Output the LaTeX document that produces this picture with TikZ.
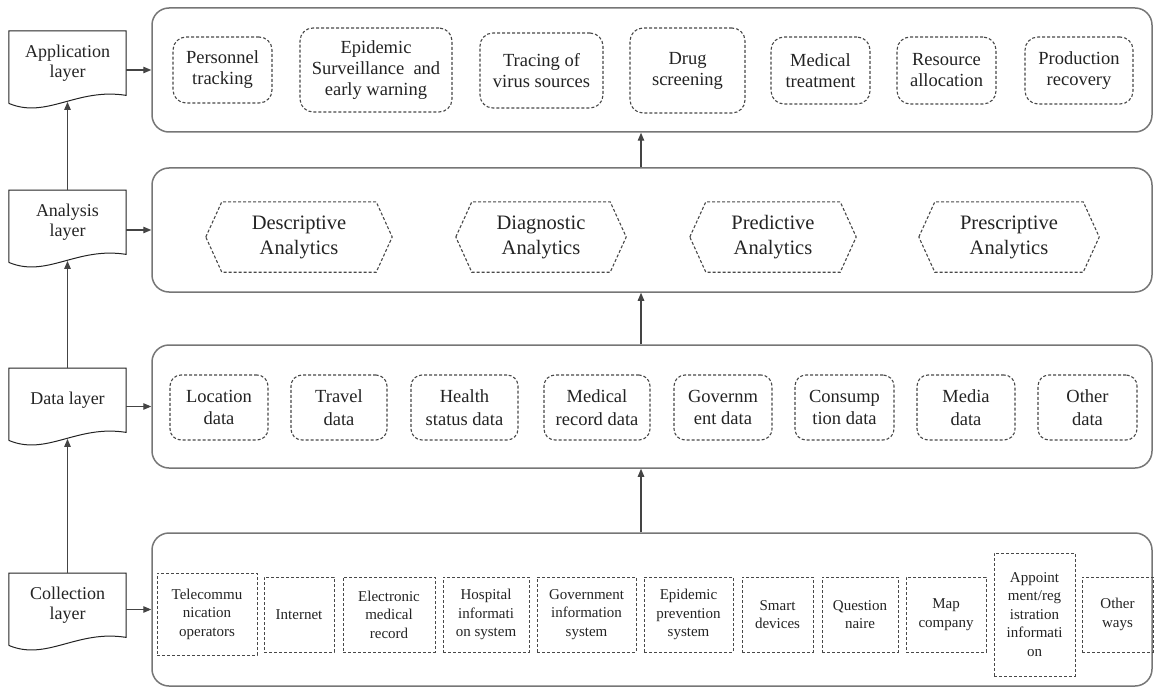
\documentclass[tikz,border=0pt]{standalone}
\usepackage{fontspec}
\setmainfont{Liberation Serif}
\newfontfamily\timesfam{Liberation Serif}
\usetikzlibrary{calc,arrows.meta}

\definecolor{frame}{RGB}{118,118,118}
\definecolor{ink}{RGB}{35,35,35}
\definecolor{dashc}{RGB}{72,72,72}

% document-style outline with a wavy bottom edge
\newcommand\docframe[1]{%
  \draw[docline] ($(#1.south west)+(0,9)$) -- (#1.north west) -- (#1.north east)
    -- ($(#1.south east)+(0,1)$)
    .. controls ($(#1.south west)+(68,-7)$) and ($(#1.south west)+(38,25)$) ..
    ($(#1.south west)+(0,9)$);
  \coordinate (#1-w) at ($(#1.south)+(0,7.5)$);}

% dashed hexagon around a node
\newcommand\hexframe[1]{%
  \draw[dashbox] (#1.west) -- ($(#1.north west)+(16,0)$) -- ($(#1.north east)+(-16,0)$)
    -- (#1.east) -- ($(#1.south east)+(-16,0)$) -- ($(#1.south west)+(16,0)$) -- cycle;}

\begin{document}
\begin{tikzpicture}[x=1pt,y=-1pt,
  every node/.style={text=ink, inner sep=0pt, align=center},
  bigbox/.style={draw=frame, line width=1.5pt, rounded corners=17pt, minimum width=1000pt},
  dashbox/.style={draw=dashc, line width=1.1pt, dash pattern=on 3pt off 2pt},
  docline/.style={draw=ink, line width=1pt},
  layerlbl/.style={anchor=north, minimum width=117pt, minimum height=63pt,
    font=\timesfam\fontsize{18}{20}\selectfont},
  appbox/.style={dashbox, rounded corners=13pt, font=\timesfam\fontsize{18.5}{21}\selectfont},
  hexlbl/.style={font=\timesfam\fontsize{20.5}{25}\selectfont, minimum height=70pt},
  databox/.style={dashbox, rounded corners=11pt, minimum height=65pt,
    font=\timesfam\fontsize{18.5}{22.5}\selectfont},
  srcbox/.style={dashbox, line width=1pt, minimum height=75pt, font=\timesfam\fontsize{15}{18.5}\selectfont},
  arr/.style={draw=ink!85!white, line width=1.1pt, -{Triangle[length=8pt,width=6.5pt]}}
]
\useasboundingbox (0,0) rectangle (1155,687);

% layer boxes
\node[bigbox, minimum height=124pt] (topb) at (652,70) {};
\node[bigbox, minimum height=124pt] (anab) at (652,230) {};
\node[bigbox, minimum height=123pt] (datb) at (652,406.5) {};
\node[bigbox, minimum height=153pt] (colb) at (652,609.5) {};

% layer labels
\node[layerlbl] (app) at (67.5,31) {Application\\layer};
\node[layerlbl] (ana) at (67.5,190) {Analysis\\layer};
\node[layerlbl] (dat) at (67.5,368) {Data layer};
\node[layerlbl] (col) at (67.5,573) {Collection\\layer};
\docframe{app}\docframe{ana}\docframe{dat}\docframe{col}

% application layer
\node[appbox, minimum width=99pt, minimum height=66pt] (per) at (222.5,70) {Personnel\\tracking};
\node[appbox, minimum width=152pt, minimum height=84pt] (epi) at (376,70) {Epidemic\\Surveillance\ \ and\\early warning};
\node[appbox, minimum width=123pt, minimum height=75pt] (trc) at (541.5,70.5) {Tracing of\\virus sources};
\node[appbox, minimum width=115pt, minimum height=85pt] (drg) at (687.5,70.5) {Drug\\screening};
\node[appbox, minimum width=99pt, minimum height=67pt] (mtr) at (820.5,70.5) {Medical\\treatment};
\node[appbox, minimum width=99pt, minimum height=67pt] (ral) at (946.5,70.5) {Resource\\allocation};
\node[appbox, minimum width=108pt, minimum height=67pt] (prd) at (1079,70.5) {Production\\recovery};

% analysis layer
\node[hexlbl, minimum width=186pt] (dsc) at (299,237) {Descriptive\\Analytics};
\node[hexlbl, minimum width=170pt] (dgn) at (541,237) {Diagnostic\\Analytics};
\node[hexlbl, minimum width=166pt] (prv) at (773,237) {Predictive\\Analytics};
\node[hexlbl, minimum width=180pt] (prs) at (1009,237) {Prescriptive\\Analytics};
\hexframe{dsc}\hexframe{dgn}\hexframe{prv}\hexframe{prs}

% data layer
\node[databox, minimum width=98pt] (loc) at (219,407.5) {Location\\data};
\node[databox, minimum width=96pt] (trv) at (339,407.5) {Travel\\data};
\node[databox, minimum width=107pt] (hsd) at (464.5,407.5) {Health\\status data};
\node[databox, minimum width=106pt] (mrd) at (597,407.5) {Medical\\record data};
\node[databox, minimum width=98pt] (gvd) at (723,407.5) {Governm\\ent data};
\node[databox, minimum width=99pt] (cns) at (844.5,407.5) {Consump\\tion data};
\node[databox, minimum width=98pt] (mdd) at (966,407.5) {Media\\data};
\node[databox, minimum width=99pt] (otd) at (1087.5,407.5) {Other\\data};

% collection layer
\node[srcbox, minimum width=100pt, minimum height=82pt] (tel) at (207,614) {Telecommu\\nication\\operators};
\node[srcbox, minimum width=70pt] (inet) at (299,614.5) {Internet};
\node[srcbox, minimum width=92pt] (emr) at (389,614.5) {Electronic\\medical\\record};
\node[srcbox, minimum width=86pt] (his) at (486,614.5) {Hospital\\informati\\on system};
\node[srcbox, minimum width=99pt] (gis) at (586.5,614.5) {Government\\information\\system};
\node[srcbox, minimum width=89pt] (eps) at (688.5,614.5) {Epidemic\\prevention\\system};
\node[srcbox, minimum width=71pt] (smd) at (777.5,614.5) {Smart\\devices};
\node[srcbox, minimum width=76pt] (qst) at (860,614.5) {Question\\naire};
\node[srcbox, minimum width=80pt] (mapc) at (946,614.5) {Map\\company};
\node[srcbox, minimum width=81pt, minimum height=123pt] (apr) at (1034.5,614.5) {Appoint\\ment/reg\\istration\\informati\\on};
\node[srcbox, minimum width=71pt] (oway) at (1117.5,614.5) {Other\\ways};

% connectors between layers
\coordinate (spine) at (641,0);
\draw[arr] (anab.north -| spine) -- (topb.south -| spine);
\draw[arr] (datb.north -| spine) -- (anab.south -| spine);
\draw[arr] (colb.north -| spine) -- (datb.south -| spine);

\draw[arr] (ana.north) -- (app-w);
\draw[arr] (dat.north) -- (ana-w);
\draw[arr] (col.north) -- (dat-w);

\draw[arr] (app.east |- topb.west) -- (topb.west);
\draw[arr] (ana.east |- anab.west) -- (anab.west);
\draw[arr] (dat.east |- datb.west) -- (datb.west);
\draw[arr] (col.east |- colb.west) -- (colb.west);
\end{tikzpicture}
\end{document}
